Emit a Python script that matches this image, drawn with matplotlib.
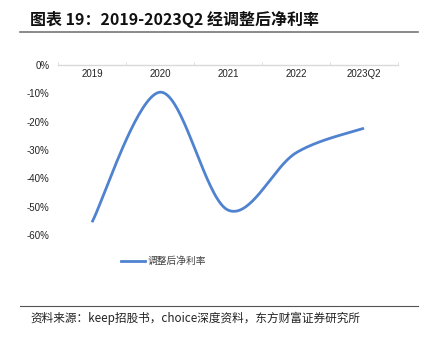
import matplotlib
matplotlib.use("Agg")
import matplotlib.pyplot as plt
import numpy as np

categories = ["2019", "2020", "2021", "2022", "2023Q2"]
net_margin = [-55.5, -9.6, -51.2, -31.0, -22.3]
yticks = [0, -10, -20, -30, -40, -50, -60]
series_name = "调整后净利率"
title = "图表 19：2019-2023Q2 经调整后净利率"
source = "资料来源：keep招股书，choice深度资料，东方财富证券研究所"

CJK = ["Noto Sans CJK SC", "DejaVu Sans"]
LAT = ["Liberation Sans", "DejaVu Sans"]
color = "#5083CF"

def smooth(xs, ys, n=40):
    # Excel-like Bezier smoothing (Catmull-Rom, tension 1/6)
    P = np.column_stack([xs, ys]).astype(float)
    out = []
    m = len(P)
    for i in range(m - 1):
        p0 = P[i - 1] if i > 0 else P[i]
        p1 = P[i]
        p2 = P[i + 1]
        p3 = P[i + 2] if i + 2 < m else P[i + 1]
        c1 = p1 + (p2 - p0) / 6.0
        c2 = p2 - (p3 - p1) / 6.0
        t = np.linspace(0, 1, n)[:, None]
        seg = ((1 - t) ** 3) * p1 + 3 * ((1 - t) ** 2) * t * c1 + 3 * (1 - t) * t ** 2 * c2 + t ** 3 * p2
        out.append(seg if i == 0 else seg[1:])
    s = np.vstack(out)
    return s[:, 0], s[:, 1]

fig = plt.figure(figsize=(4.21, 3.38), dpi=100)
W, H = 421, 338

ax = fig.add_axes([58 / W, 1 - 235 / H, (398 - 58) / W, (235 - 65) / H])
x = np.arange(len(categories))
sx, sy = smooth(x, net_margin)
ax.plot(sx, sy, color=color, lw=2.0, solid_capstyle="butt", label=series_name)

ax.set_xlim(-0.5, len(categories) - 0.5)
ax.set_ylim(-60, 0)
for s in ["top", "right", "left"]:
    ax.spines[s].set_visible(False)
ax.spines["bottom"].set_position(("data", 0))
ax.spines["bottom"].set_color("#d9d9d9")
ax.spines["bottom"].set_linewidth(1.0)
ax.set_xticks(x)
ax.set_xticklabels(categories, fontfamily=LAT, fontsize=7, color="#222222")
ax.tick_params(axis="x", length=0, pad=3)
ax.set_xticks(np.arange(-0.5, len(categories)), minor=True)
ax.tick_params(axis="x", which="minor", length=2, direction="in", color="#d9d9d9")
ax.set_yticks(yticks)
ax.set_yticklabels([f"{v}%" for v in yticks], fontfamily=LAT, fontsize=7, color="#222222")
ax.tick_params(axis="y", length=0, pad=6)

# legend
fig.lines.append(plt.Line2D([121 / W, 145 / W], [1 - 261 / H, 1 - 261 / H], color=color, lw=2.0, transform=fig.transFigure))
fig.text(148 / W, 1 - 261 / H, series_name, fontfamily=CJK, fontsize=7, va="center", ha="left", color="#404040")

# title and rules
fig.text(30 / W, 1 - 19 / H, title, fontfamily=CJK, fontsize=11.5, fontweight="bold", va="center", ha="left", color="#111111")
fig.lines.append(plt.Line2D([20 / W, 418 / W], [1 - 32 / H, 1 - 32 / H], color="#777777", lw=1.2, transform=fig.transFigure))
fig.lines.append(plt.Line2D([20 / W, 418 / W], [1 - 306 / H, 1 - 306 / H], color="#555555", lw=0.8, transform=fig.transFigure))
fig.text(30 / W, 1 - 318 / H, source, fontfamily=CJK, fontsize=8.4, va="center", ha="left", color="#222222")

fig.savefig("out.png", dpi=100)
